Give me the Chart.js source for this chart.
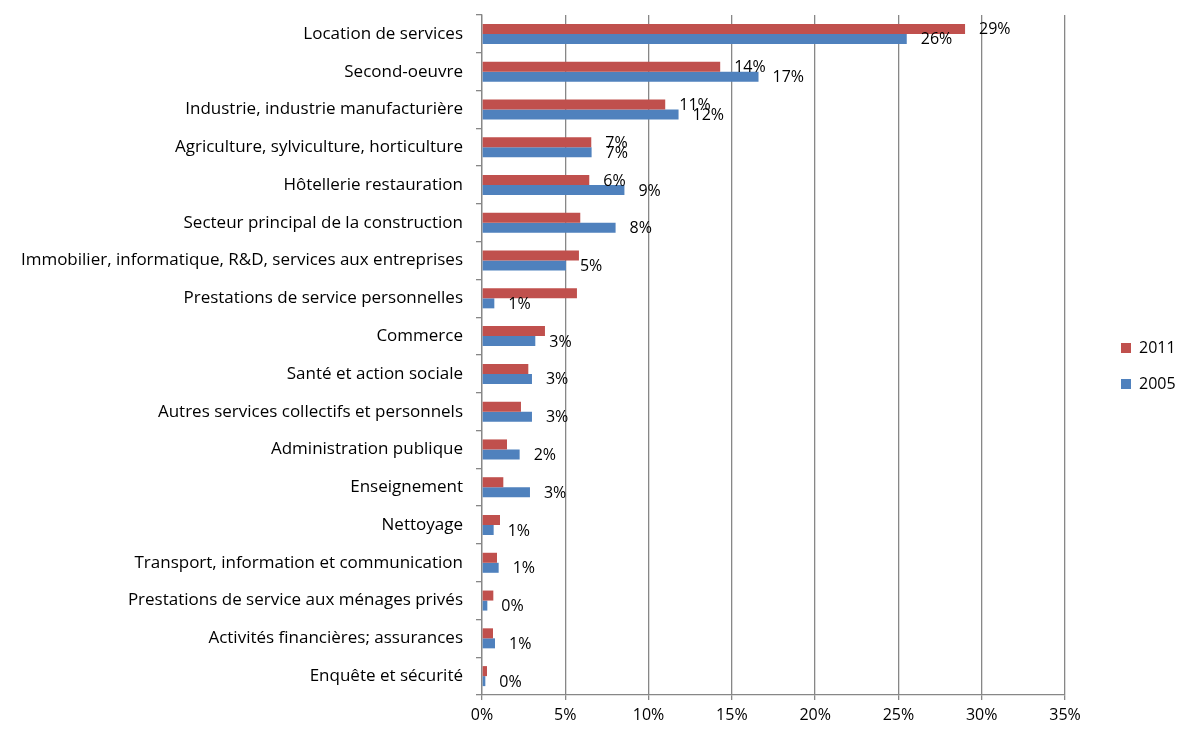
<!DOCTYPE html>
<html>
<head>
<meta charset="utf-8">
<script src="https://cdn.jsdelivr.net/npm/chart.js@4/dist/chart.umd.min.js"></script>
<style>
    html, body { margin: 0; padding: 0; background: #ffffff; }
    #wrap { width: 1180px; height: 729px; }
</style>
</head>
<body>
<div id="wrap"><canvas id="sectorChart" width="1180" height="729"></canvas></div>
<script>
const sectors = [
    "Location de services",
    "Second-oeuvre",
    "Industrie, industrie manufacturière",
    "Agriculture, sylviculture, horticulture",
    "Hôtellerie restauration",
    "Secteur principal de la construction",
    "Immobilier, informatique, R&D, services aux entreprises",
    "Prestations de service personnelles",
    "Commerce",
    "Santé et action sociale",
    "Autres services collectifs et personnels",
    "Administration publique",
    "Enseignement",
    "Nettoyage",
    "Transport, information et communication",
    "Prestations de service aux ménages privés",
    "Activités financières; assurances",
    "Enquête et sécurité"
];

const values2011 = [29.0, 14.3, 11.0, 6.56, 6.44, 5.9, 5.82, 5.7, 3.78, 2.78, 2.34, 1.5, 1.28, 1.08, 0.9, 0.68, 0.66, 0.3];
const values2005 = [25.5, 16.6, 11.8, 6.58, 8.55, 8.02, 5.04, 0.74, 3.2, 3.0, 3.0, 2.26, 2.88, 0.7, 1.0, 0.32, 0.78, 0.2];

// only the first rows of 2011 carry a value label in the original
const labelCount2011 = 5;

const xTicks = [0, 5, 10, 15, 20, 25, 30, 35];

const FONT = "'Open Sans', sans-serif";

// =======================
// Value labels
// =======================

const valueLabels = {
    id: "valueLabels",
    afterDatasetsDraw(chart) {
        const ctx = chart.ctx;
        ctx.save();
        ctx.font = "16px " + FONT;
        ctx.fillStyle = "#000000";
        ctx.textAlign = "left";
        ctx.textBaseline = "middle";
        chart.data.datasets.forEach((ds, di) => {
            const meta = chart.getDatasetMeta(di);
            meta.data.forEach((bar, i) => {
                if (di === 0 && i >= labelCount2011) return;
                ctx.fillText(Math.round(ds.data[i]) + "%", bar.x + 14, bar.y + 1);
            });
        });
        ctx.restore();
    }
};

Chart.defaults.font.family = FONT;
Chart.defaults.font.size = 16;
Chart.defaults.color = "#000000";

new Chart(document.getElementById("sectorChart"), {
    type: "bar",
    data: {
        labels: sectors,
        datasets: [
            {
                label: "2011",
                data: values2011,
                backgroundColor: "#C0504D",
                borderWidth: 0,
                barPercentage: 1,
                categoryPercentage: 0.53
            },
            {
                label: "2005",
                data: values2005,
                backgroundColor: "#4F81BD",
                borderWidth: 0,
                barPercentage: 1,
                categoryPercentage: 0.53
            }
        ]
    },
    options: {
        indexAxis: "y",
        responsive: false,
        animation: false,
        layout: {
            padding: { top: 3, right: 0, bottom: 0, left: 0 }
        },
        scales: {
            x: {
                min: 0,
                max: 35,
                afterBuildTicks: scale => {
                    scale.ticks = xTicks.map(v => ({ value: v }));
                },
                afterFit: scale => {
                    scale.height = 34;
                },
                ticks: {
                    padding: 6,
                    callback: v => v + "%"
                },
                grid: {
                    color: "#878787",
                    lineWidth: 1.3,
                    tickLength: 5
                },
                border: {
                    color: "#878787",
                    width: 1.3
                }
            },
            y: {
                afterFit: scale => {
                    scale.width = 482;
                    scale.paddingTop = 15;
                    scale.paddingBottom = 0;
                },
                ticks: {
                    padding: 13,
                    autoSkip: false,
                    font: { size: 17 }
                },
                grid: {
                    drawOnChartArea: false,
                    color: "#878787",
                    lineWidth: 1.3,
                    tickLength: 6
                },
                border: {
                    color: "#878787",
                    width: 1.3
                }
            },
            // empty spacer between plot and legend
            spacer: {
                type: "linear",
                position: "right",
                afterFit: scale => {
                    scale.width = 36;
                    scale.paddingTop = 0;
                    scale.paddingBottom = 0;
                },
                ticks: { display: false },
                grid: { display: false },
                border: { display: false }
            }
        },
        plugins: {
            legend: {
                position: "right",
                align: "center",
                maxWidth: 79,
                labels: {
                    boxWidth: 10,
                    boxHeight: 10,
                    padding: 20,
                    font: { size: 16, family: FONT }
                }
            },
            tooltip: { enabled: false }
        }
    },
    plugins: [valueLabels]
});
</script>
</body>
</html>
